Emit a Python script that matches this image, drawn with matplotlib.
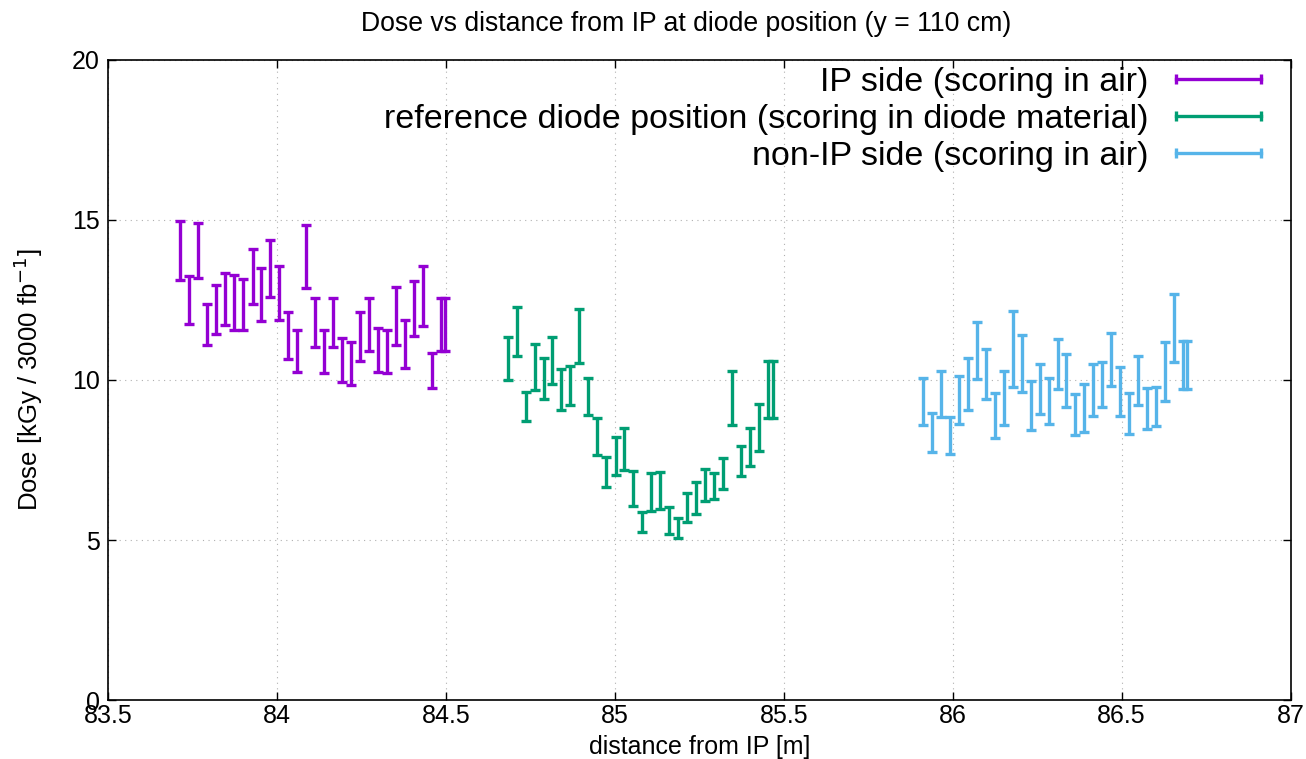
import matplotlib
matplotlib.use("Agg")
import matplotlib.pyplot as plt
from matplotlib.lines import Line2D
import numpy as np

plt.rcParams['font.family'] = ['Liberation Sans', 'DejaVu Sans']

# IP side (scoring in air)
ip_x = [83.712, 83.740, 83.766, 83.792, 83.820, 83.847, 83.874, 83.901, 83.928, 83.952,
        83.979, 84.006, 84.033, 84.058, 84.085, 84.112, 84.138, 84.165, 84.192, 84.219,
        84.245, 84.272, 84.299, 84.326, 84.352, 84.379, 84.406, 84.432, 84.459, 84.487, 84.497]
ip_lo = [13.13, 11.75, 13.20, 11.10, 11.43, 11.72, 11.56, 11.56, 12.36, 11.84,
         12.58, 11.88, 10.66, 10.24, 12.86, 11.04, 10.21, 11.04, 9.95, 9.84,
         10.59, 10.92, 10.24, 10.21, 11.10, 10.39, 11.38, 11.69, 9.76, 10.92, 10.92]
ip_hi = [14.97, 13.25, 14.90, 12.36, 12.97, 13.33, 13.28, 13.16, 14.08, 13.49,
         14.38, 13.56, 12.11, 11.56, 14.84, 12.55, 11.56, 12.55, 11.32, 11.20,
         12.11, 12.55, 11.61, 11.56, 12.92, 11.89, 13.09, 13.56, 10.83, 12.55, 12.55]

# reference diode position (scoring in diode material)
ref_x = [84.684, 84.711, 84.737, 84.763, 84.789, 84.815, 84.841, 84.868, 84.895, 84.921,
         84.947, 84.974, 85.002, 85.027, 85.054, 85.081, 85.107, 85.135, 85.161, 85.187,
         85.213, 85.240, 85.267, 85.293, 85.320, 85.348, 85.373, 85.400, 85.426, 85.452, 85.468]
ref_lo = [10.00, 10.75, 8.72, 9.69, 9.40, 9.86, 9.06, 9.22, 10.52, 8.90,
          7.66, 6.67, 7.03, 7.19, 6.06, 5.26, 5.92, 5.97, 5.19, 5.05,
          5.55, 5.80, 6.23, 6.27, 6.59, 8.59, 7.00, 7.31, 7.79, 8.80, 8.80]
ref_hi = [11.35, 12.29, 9.64, 11.13, 10.68, 11.35, 10.34, 10.44, 12.21, 10.07,
          8.80, 7.60, 8.23, 8.49, 7.16, 5.88, 7.10, 7.14, 6.04, 5.68,
          6.48, 6.82, 7.22, 7.08, 7.55, 10.28, 7.94, 8.49, 9.24, 10.60, 10.60]

# non-IP side (scoring in air)
non_x = [85.911, 85.939, 85.965, 85.991, 86.019, 86.045, 86.072, 86.099, 86.125, 86.151,
         86.177, 86.204, 86.231, 86.257, 86.284, 86.311, 86.336, 86.363, 86.390, 86.416,
         86.443, 86.469, 86.495, 86.522, 86.549, 86.575, 86.602, 86.628, 86.655, 86.682, 86.694]
non_lo = [8.59, 7.74, 8.83, 7.68, 8.63, 9.06, 10.03, 9.40, 8.18, 8.59,
          9.79, 9.61, 8.44, 8.93, 8.63, 9.72, 9.15, 8.28, 8.38, 8.88,
          9.15, 9.81, 8.88, 8.30, 9.22, 8.47, 8.56, 9.34, 10.55, 9.72, 9.72]
non_hi = [10.07, 8.96, 10.29, 8.83, 10.13, 10.68, 11.82, 10.96, 9.60, 10.29,
          12.16, 11.40, 9.97, 10.49, 10.05, 11.28, 10.80, 9.55, 9.88, 10.49,
          10.57, 11.46, 10.40, 9.60, 10.76, 9.74, 9.79, 11.18, 12.69, 11.23, 11.23]

series = [
    ("IP side (scoring in air)", ip_x, ip_lo, ip_hi, "#9400D3"),
    ("reference diode position (scoring in diode material)", ref_x, ref_lo, ref_hi, "#009E73"),
    ("non-IP side (scoring in air)", non_x, non_lo, non_hi, "#56B4E9"),
]

fig = plt.figure(figsize=(13.06, 7.59), dpi=100)
ax = fig.add_axes([0.0827, 0.0777, 0.9055, 0.8433])

handles = []
for label, x, lo, hi, col in series:
    lo = np.array(lo); hi = np.array(hi)
    mid = (lo + hi) / 2
    err = (hi - lo) / 2
    ax.errorbar(x, mid, yerr=err, fmt='none', ecolor=col, elinewidth=2.4,
                capsize=3.3, capthick=2.4)
    handles.append(Line2D([0], [0], color=col, lw=2.4, marker='|', markersize=7.5,
                          markeredgewidth=2.4, label=label))

ax.set_xlim(83.5, 87)
ax.set_ylim(0, 20)
ax.set_xticks(np.arange(83.5, 87.01, 0.5))
ax.set_xticklabels(['83.5', '84', '84.5', '85', '85.5', '86', '86.5', '87'])
ax.set_yticks([0, 5, 10, 15, 20])
ax.tick_params(direction='in', top=True, right=True, labelsize=18, length=6, width=1)
ax.tick_params(axis='x', pad=3)
ax.tick_params(axis='y', pad=6)
ax.grid(True, linestyle=(0, (1, 4)), color='#b0b0b0', linewidth=0.8)
for s in ax.spines.values():
    s.set_linewidth(1.2)

ax.set_xlabel('distance from IP [m]', fontsize=18, labelpad=5)
ax.set_ylabel('Dose [kGy / 3000 fb$^{-1}$]', fontsize=18.5, labelpad=19)
ax.set_title('Dose vs distance from IP at diode position (y = 110 cm)', fontsize=19.2,
             pad=21, x=0.489)

ax.legend(handles=handles, loc='upper right', bbox_to_anchor=(0.984, 0.989),
          frameon=False, fontsize=24.5,
          markerfirst=False, numpoints=2, handlelength=3.12, labelspacing=0.17,
          borderaxespad=0.0, borderpad=0.0, handletextpad=0.5, alignment='right')
leg = ax.get_legend()
for t in leg.get_texts():
    t.set_ha('right')

fig.savefig('out.png', dpi=100)
